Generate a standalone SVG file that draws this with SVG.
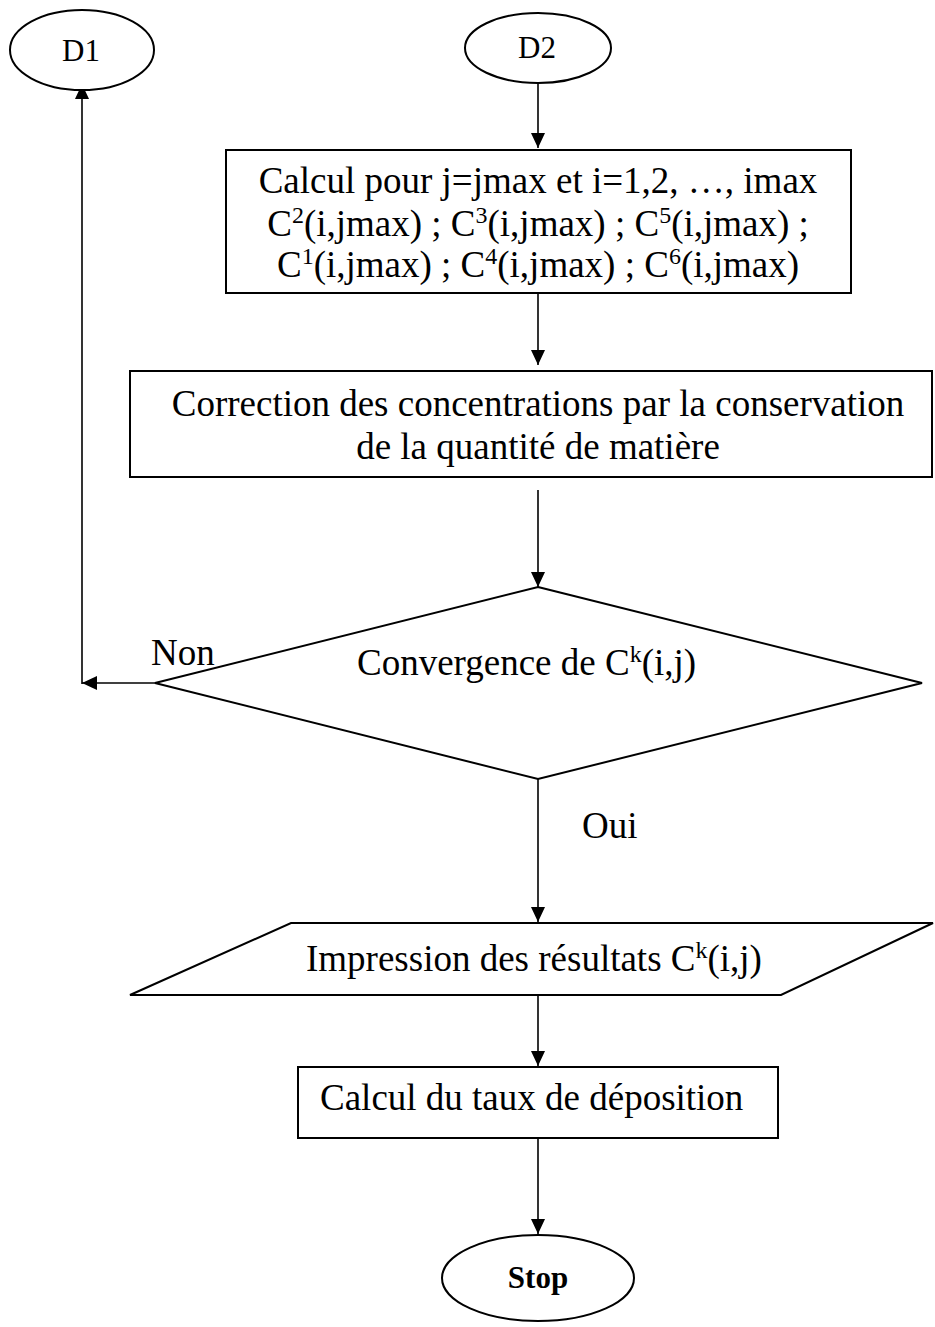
<svg xmlns="http://www.w3.org/2000/svg" width="935" height="1327" viewBox="0 0 935 1327">
  <style>
    .shape { fill: #fff; stroke: #000; stroke-width: 2; }
    .edge { fill: none; stroke: #000; stroke-width: 1.6; }
    .t { font-family: "Liberation Serif", "Times New Roman", serif; font-size: 37px; fill: #000; }
    .term { font-family: "Liberation Serif", "Times New Roman", serif; font-size: 31px; fill: #000; }
    .stop { font-family: "Liberation Serif", "Times New Roman", serif; font-size: 31px; font-weight: bold; fill: #000; }
    .sup { font-size: 24px; }
  </style>
  <defs>
    <marker id="arrow" markerUnits="userSpaceOnUse" markerWidth="16" markerHeight="15" refX="15" refY="7" orient="auto">
      <path d="M0,0 L15,7 L0,14 Z" fill="#000"/>
    </marker>
  </defs>
  <rect width="935" height="1327" fill="#fff"/>

  <!-- connectors -->
  <g id="connectors">
    <line class="edge" x1="538" y1="83" x2="538" y2="148" marker-end="url(#arrow)"/>
    <line class="edge" x1="538" y1="294" x2="538" y2="365" marker-end="url(#arrow)"/>
    <line class="edge" x1="538" y1="490" x2="538" y2="587" marker-end="url(#arrow)"/>
    <line class="edge" x1="538" y1="779" x2="538" y2="922" marker-end="url(#arrow)"/>
    <line class="edge" x1="538" y1="995" x2="538" y2="1066" marker-end="url(#arrow)"/>
    <line class="edge" x1="538" y1="1138" x2="538" y2="1234" marker-end="url(#arrow)"/>
    <!-- "Non" branch back to D1 -->
    <line class="edge" x1="155" y1="683" x2="82" y2="683" marker-end="url(#arrow)"/>
    <line class="edge" x1="82" y1="684" x2="82" y2="84" marker-end="url(#arrow)"/>
    <text class="t" x="151" y="665">Non</text>
    <text class="t" x="582" y="838">Oui</text>
  </g>

  <g id="d1">
    <ellipse class="shape" cx="82" cy="50" rx="72" ry="40"/>
    <text class="term" x="81" y="61" text-anchor="middle">D1</text>
  </g>

  <g id="d2">
    <ellipse class="shape" cx="538" cy="48" rx="73" ry="35"/>
    <text class="term" x="537" y="58" text-anchor="middle">D2</text>
  </g>

  <g id="calcul-jmax">
    <rect class="shape" x="226" y="150" width="625" height="143"/>
    <text class="t" x="538" y="193" text-anchor="middle">Calcul pour j=jmax et i=1,2, …, imax</text>
    <text class="t" x="538" y="236" text-anchor="middle">C<tspan class="sup" dy="-13">2</tspan><tspan dy="13">(i,jmax) ; C</tspan><tspan class="sup" dy="-13">3</tspan><tspan dy="13">(i,jmax) ; C</tspan><tspan class="sup" dy="-13">5</tspan><tspan dy="13">(i,jmax) ;</tspan></text>
    <text class="t" x="538" y="277" text-anchor="middle">C<tspan class="sup" dy="-13">1</tspan><tspan dy="13">(i,jmax) ; C</tspan><tspan class="sup" dy="-13">4</tspan><tspan dy="13">(i,jmax) ; C</tspan><tspan class="sup" dy="-13">6</tspan><tspan dy="13">(i,jmax)</tspan></text>
  </g>

  <g id="correction">
    <rect class="shape" x="130" y="371" width="802" height="106"/>
    <text class="t" x="538" y="416" text-anchor="middle">Correction des concentrations par la conservation</text>
    <text class="t" x="538" y="459" text-anchor="middle">de la quantité de matière</text>
  </g>

  <g id="convergence">
    <polygon class="shape" points="538,587 922,683 538,779 155,683"/>
    <text class="t" x="357" y="675">Convergence de C<tspan class="sup" dy="-13">k</tspan><tspan dy="13">(i,j)</tspan></text>
  </g>

  <g id="impression">
    <polygon class="shape" points="291,923 933,923 781,995 130,995"/>
    <text class="t" x="306" y="971">Impression des résultats C<tspan class="sup" dy="-13">k</tspan><tspan dy="13">(i,j)</tspan></text>
  </g>

  <g id="deposition">
    <rect class="shape" x="298" y="1067" width="480" height="71"/>
    <text class="t" x="320" y="1110">Calcul du taux de déposition</text>
  </g>

  <g id="stop">
    <ellipse class="shape" cx="538" cy="1278" rx="96" ry="43"/>
    <text class="stop" x="538" y="1288" text-anchor="middle">Stop</text>
  </g>
</svg>
